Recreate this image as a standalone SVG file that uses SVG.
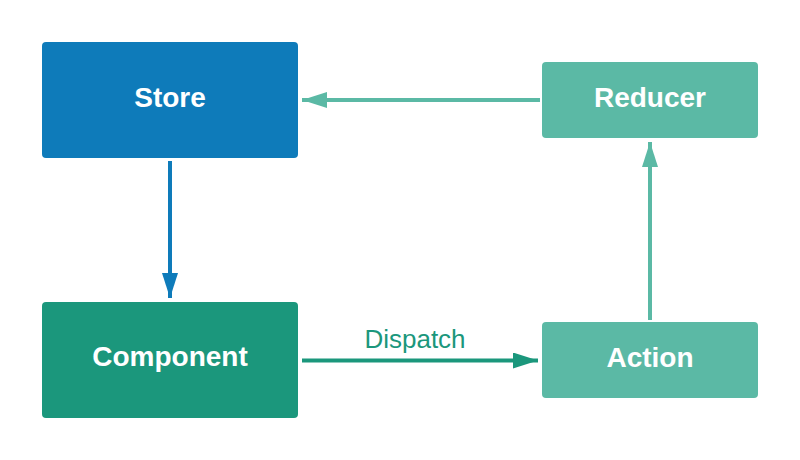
<svg xmlns="http://www.w3.org/2000/svg" width="800" height="460" viewBox="0 0 800 460">
<style>
.box{stroke:none}
.lbl{font-family:"Liberation Sans",Arial,sans-serif;font-weight:bold;font-size:28px;fill:#ffffff;text-anchor:middle}
.edge{fill:none;stroke-width:4}
.elbl{font-family:"Liberation Sans",Arial,sans-serif;font-size:26px;fill:#1b977c;text-anchor:middle}
</style>
<defs>
<marker id="hBlue" markerUnits="userSpaceOnUse" markerWidth="26" markerHeight="16" refX="25" refY="8" orient="auto"><path d="M0,0 L25,8 L0,16 Z" fill="#0e7bba"/></marker>
<marker id="hDark" markerUnits="userSpaceOnUse" markerWidth="26" markerHeight="16" refX="25" refY="8" orient="auto"><path d="M0,0 L25,8 L0,16 Z" fill="#1b977c"/></marker>
<marker id="hLight" markerUnits="userSpaceOnUse" markerWidth="26" markerHeight="16" refX="25" refY="8" orient="auto"><path d="M0,0 L25,8 L0,16 Z" fill="#5bb9a5"/></marker>
</defs>
<rect width="800" height="460" fill="#ffffff"/>
<g id="connectors">
<line class="edge" x1="170" y1="161" x2="170" y2="298" stroke="#0e7bba" marker-end="url(#hBlue)"/>
<line class="edge" x1="302" y1="360.5" x2="538" y2="360.5" stroke="#1b977c" marker-end="url(#hDark)"/>
<text class="elbl" x="415" y="348">Dispatch</text>
<line class="edge" x1="650" y1="320" x2="650" y2="142" stroke="#5bb9a5" marker-end="url(#hLight)"/>
<line class="edge" x1="540" y1="100" x2="302" y2="100" stroke="#5bb9a5" marker-end="url(#hLight)"/>
</g>
<g id="store"><rect class="box" x="42" y="42" width="256" height="116" rx="4" fill="#0e7bba"/><text class="lbl" x="170" y="107">Store</text></g>
<g id="component"><rect class="box" x="42" y="302" width="256" height="116" rx="4" fill="#1b977c"/><text class="lbl" x="170" y="366">Component</text></g>
<g id="reducer"><rect class="box" x="542" y="62" width="216" height="76" rx="4" fill="#5bb9a5"/><text class="lbl" x="650" y="107">Reducer</text></g>
<g id="action"><rect class="box" x="542" y="322" width="216" height="76" rx="4" fill="#5bb9a5"/><text class="lbl" x="650" y="367">Action</text></g>
</svg>
